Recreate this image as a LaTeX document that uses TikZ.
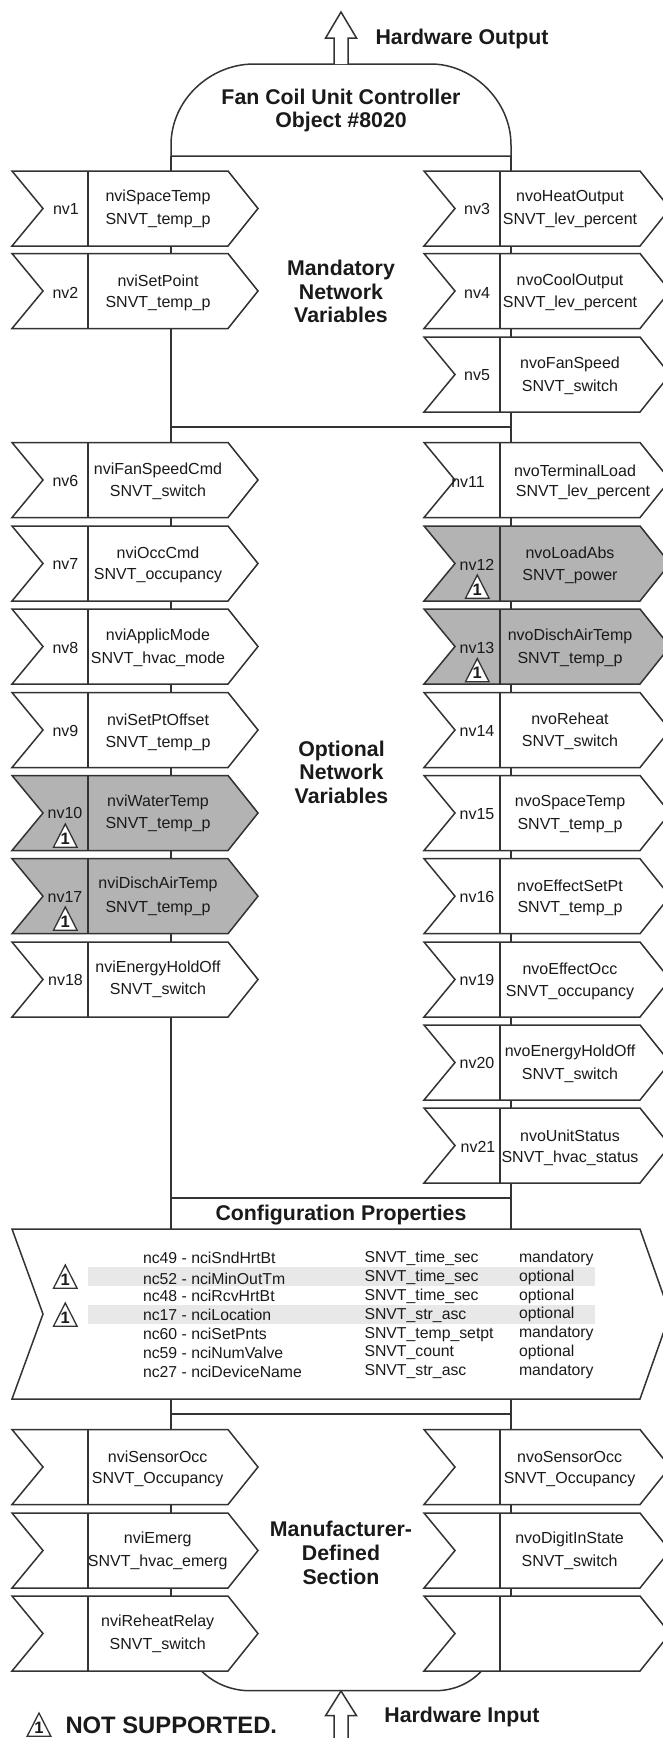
\documentclass[tikz,border=0pt]{standalone}
\usepackage{fontspec}
\setmainfont{Liberation Sans}
\definecolor{ink}{HTML}{333333}
\definecolor{txt}{HTML}{1A1A1A}
\definecolor{shade}{HTML}{B3B3B3}
\definecolor{band}{HTML}{E8E8E8}
\tikzset{
  x=1pt,y=-1pt,
  ln/.style={draw=ink,line width=1.5pt,line join=miter},
  lbl/.style={anchor=base,inner sep=0pt,outer sep=0pt,text=txt,font=\fontsize{16}{18}\selectfont},
  cfg/.style={anchor=base west,inner sep=0pt,outer sep=0pt,text=txt,font=\fontsize{15.8}{18}\selectfont},
  hd/.style={anchor=base,inner sep=0pt,outer sep=0pt,text=txt,font=\bfseries\fontsize{21.3}{24}\selectfont},
  tri/.style={draw=ink,line width=1.3pt,line join=miter},
  trin/.style={anchor=base,inner sep=0pt,outer sep=0pt,text=txt,font=\bfseries\fontsize{16.5}{18}\selectfont},
}
% x offset, top, fill
\newcommand{\Chev}[3]{%
  \draw[ln,fill=#3] (#1+12,#2) -- (#1+228,#2) -- (#1+258,#2+37.5) -- (#1+228,#2+75) -- (#1+12,#2+75) -- (#1+43,#2+37.5) -- cycle;
  \draw[ln] (#1+88,#2) -- (#1+88,#2+75);
}
% name, x, y(mid), text
\newcommand{\Lbl}[4]{\node[lbl] (#1) at (#2,#3+5.5) {#4};}
\newcommand{\Two}[6]{\Lbl{#1a}{#2}{#3}{#5}\Lbl{#1b}{#2}{#4}{#6}}
\newcommand{\Hd}[4]{\node[hd] (#1) at (#2,#3+7.5) {#4};}
% name, x centre, apex y, fill
\newcommand{\Warn}[4]{%
  \draw[tri,fill=#4] (#2,#3) -- (#2+11.8,#3+23.2) -- (#2-11.8,#3+23.2) -- cycle;
  \node[trin] (#1) at (#2,#3+20) {1};
}
\newcommand{\Cfg}[7]{%
  \node[cfg] (#1a) at (143,#2+5.5) {#5};
  \node[cfg] (#1b) at (364.5,#3+5.5) {#6};
  \node[cfg] (#1c) at (519,#4+5.5) {#7};
}
\begin{document}
\begin{tikzpicture}
\useasboundingbox (0,0) rectangle (663,1738);
\clip (0,0) rectangle (663,1738);
\fill[white] (0,0) rectangle (663,1738);
\coordinate (busLT) at (171,156);
\coordinate (busRT) at (511,156);
\coordinate (busLB) at (171,1600);
\coordinate (busRB) at (511,1600);
\coordinate (m1L) at (171,427);
\coordinate (m1R) at (511,427);
\coordinate (m2L) at (171,1198);
\coordinate (m2R) at (511,1198);
\coordinate (m3L) at (171,1414);
\coordinate (m3R) at (511,1414);
% buses
\draw[ln] (busLT) -- (busLB);
\draw[ln] (busRT) -- (busRB);
\draw[ln] (m1L) -- (m1R);
\draw[ln] (m2L) -- (m2R);
\draw[ln] (m3L) -- (m3R);
% dome
\draw[ln,fill=white] (busLT) -- (171,145) .. controls (171,100) and (210,64) .. (254,64) -- (431,64) .. controls (472,64) and (511,100) .. (511,145) -- (busRT) -- cycle;
\Hd{t1}{341}{96.7}{Fan Coil Unit Controller}
\Hd{t2}{341}{120}{Object \#8020}
% arrows
\draw[ln,fill=white] (334,64) -- (334,38) -- (325.6,38) -- (341,12) -- (356.5,38) -- (348,38) -- (348,64);
\Hd{hwo}{462}{36.7}{Hardware Output}
% foot
\draw[ln] (202,1671.5) .. controls (215,1684) and (232,1690.7) .. (250,1690.7) -- (435,1690.7) .. controls (453,1690.7) and (469,1684) .. (481,1671.5);
\draw[ln,fill=white] (334,1738) -- (334,1715.6) -- (325.6,1715.6) -- (341,1691) -- (356.5,1715.6) -- (348,1715.6) -- (348,1738);
\Hd{hwi}{462}{1715}{Hardware Input}
% Mandatory
\Chev{0}{171}{white}
\Lbl{nv1}{66}{209}{nv1}
\Two{a1}{158}{196}{219}{nviSpaceTemp}{SNVT\_temp\_p}
\Chev{0}{253.5}{white}
\Lbl{nv2}{65.5}{292.5}{nv2}
\Two{a2}{158}{280.7}{301.7}{nviSetPoint}{SNVT\_temp\_p}
\Chev{412}{171}{white}
\Lbl{nv3}{477}{209}{nv3}
\Two{a3}{570}{196}{219}{nvoHeatOutput}{SNVT\_lev\_percent}
\Chev{412}{253.5}{white}
\Lbl{nv4}{477}{292.5}{nv4}
\Two{a4}{570}{279.7}{301.7}{nvoCoolOutput}{SNVT\_lev\_percent}
\Chev{412}{337}{white}
\Lbl{nv5}{477}{375}{nv5}
\Two{a5}{570}{362.7}{385.7}{nvoFanSpeed}{SNVT\_switch}
\Hd{m1}{341}{268}{Mandatory}
\Hd{m2}{341}{291.7}{Network}
\Hd{m3}{341}{315}{Variables}
% Optional left
\Chev{0}{442.5}{white}
\Lbl{nv6}{65.5}{481}{nv6}
\Two{b6}{158}{469}{491}{nviFanSpeedCmd}{SNVT\_switch}
\Chev{0}{526}{white}
\Lbl{nv7}{65.5}{564.3}{nv7}
\Two{b7}{158}{552.7}{574.3}{nviOccCmd}{SNVT\_occupancy}
\Chev{0}{609}{white}
\Lbl{nv8}{65.5}{648.3}{nv8}
\Two{b8}{158}{635}{657.7}{nviApplicMode}{SNVT\_hvac\_mode}
\Chev{0}{692.5}{white}
\Lbl{nv9}{65.5}{731}{nv9}
\Two{b9}{158}{720}{741.7}{nviSetPtOffset}{SNVT\_temp\_p}
\Chev{0}{775.5}{shade}
\Lbl{nv10}{65}{813.3}{nv10}
\Warn{w10}{65.3}{824}{white}
\Two{b10}{158}{800.7}{823.3}{nviWaterTemp}{SNVT\_temp\_p}
\Chev{0}{858.7}{shade}
\Lbl{nv17}{65}{896.7}{nv17}
\Warn{w17}{65.3}{907}{white}
\Two{b17}{158}{883.3}{906.7}{nviDischAirTemp}{SNVT\_temp\_p}
\Chev{0}{942}{white}
\Lbl{nv18}{65.5}{980}{nv18}
\Two{b18}{158}{966.7}{989.3}{nviEnergyHoldOff}{SNVT\_switch}
% Optional right
\Chev{412}{442.5}{white}
\Lbl{nv11}{468}{481.7}{nv11}
\Lbl{c11a}{575}{470.7}{nvoTerminalLoad}
\Lbl{c11b}{583}{491}{SNVT\_lev\_percent}
\Chev{412}{526}{shade}
\Lbl{nv12}{477}{565}{nv12}
\Warn{w12}{477.3}{575}{white}
\Two{c12}{570}{552.7}{575}{nvoLoadAbs}{SNVT\_power}
\Chev{412}{609}{shade}
\Lbl{nv13}{477}{648}{nv13}
\Warn{w13}{477.3}{658.5}{white}
\Two{c13}{570}{635}{658}{nvoDischAirTemp}{SNVT\_temp\_p}
\Chev{412}{692.5}{white}
\Lbl{nv14}{477}{730.7}{nv14}
\Two{c14}{570}{719.3}{740.7}{nvoReheat}{SNVT\_switch}
\Chev{412}{775.5}{white}
\Lbl{nv15}{477}{814}{nv15}
\Two{c15}{570}{801}{824}{nvoSpaceTemp}{SNVT\_temp\_p}
\Chev{412}{858.7}{white}
\Lbl{nv16}{477}{896.7}{nv16}
\Two{c16}{570}{886}{906.7}{nvoEffectSetPt}{SNVT\_temp\_p}
\Chev{412}{942}{white}
\Lbl{nv19}{477}{980}{nv19}
\Two{c19}{570}{968.7}{990.7}{nvoEffectOcc}{SNVT\_occupancy}
\Chev{412}{1025}{white}
\Lbl{nv20}{477}{1063.3}{nv20}
\Two{c20}{570}{1050.7}{1074}{nvoEnergyHoldOff}{SNVT\_switch}
\Chev{412}{1108}{white}
\Lbl{nv21}{478}{1146.7}{nv21}
\Two{c21}{570}{1136}{1156.7}{nvoUnitStatus}{SNVT\_hvac\_status}
\Hd{o1}{341.5}{748.5}{Optional}
\Hd{o2}{341.5}{772}{Network}
\Hd{o3}{341.5}{795.5}{Variables}
% Config
\Hd{cp}{341}{1213}{Configuration Properties}
\draw[ln,fill=white] (12,1229) -- (640,1229) -- (670,1314) -- (640,1399) -- (12,1399) -- (43,1314) -- cycle;
\fill[band] (88,1267) rectangle (595,1286);
\fill[band] (88,1305) rectangle (595,1324);
\Warn{wc1}{65.3}{1265}{none}
\Warn{wc2}{65.3}{1303}{none}
\Cfg{r1}{1257.6}{1256.9}{1256.9}{nc49 - nciSndHrtBt}{SNVT\_time\_sec}{mandatory}
\Cfg{r2}{1278.6}{1275.7}{1275.7}{nc52 - nciMinOutTm}{SNVT\_time\_sec}{optional}
\Cfg{r3}{1295.7}{1294.6}{1294.6}{nc48 - nciRcvHrtBt}{SNVT\_time\_sec}{optional}
\Cfg{r4}{1314.5}{1313.5}{1313}{nc17 - nciLocation}{SNVT\_str\_asc}{optional}
\Cfg{r5}{1333.7}{1332.7}{1332}{nc60 - nciSetPnts}{SNVT\_temp\_setpt}{mandatory}
\Cfg{r6}{1352.6}{1351.2}{1351}{nc59 - nciNumValve}{SNVT\_count}{optional}
\Cfg{r7}{1371.8}{1369.7}{1369.7}{nc27 - nciDeviceName}{SNVT\_str\_asc}{mandatory}
% Manufacturer
\Chev{0}{1429.5}{white}
\Two{d1}{157.7}{1456.9}{1477.5}{nviSensorOcc}{SNVT\_Occupancy}
\Chev{0}{1513}{white}
\Two{d2}{157.7}{1537.6}{1560.8}{nviEmerg}{SNVT\_hvac\_emerg}
\Chev{0}{1596}{white}
\Two{d3}{157.7}{1620.6}{1643.7}{nviReheatRelay}{SNVT\_switch}
\Chev{412}{1429.5}{white}
\Two{d4}{569.6}{1456.9}{1477.5}{nvoSensorOcc}{SNVT\_Occupancy}
\Chev{412}{1513}{white}
\Two{d5}{569.6}{1537.6}{1560.8}{nvoDigitInState}{SNVT\_switch}
\Chev{412}{1596}{white}
\Hd{f1}{341}{1528.8}{Manufacturer-}
\Hd{f2}{341}{1552.6}{Defined}
\Hd{f3}{341}{1576.8}{Section}
% legend
\Warn{wl}{39}{1713}{none}
\node[hd,anchor=base west,font=\bfseries\fontsize{23.8}{26}\selectfont] (ns) at (65.5,1733) {NOT SUPPORTED.};
\end{tikzpicture}
\end{document}
